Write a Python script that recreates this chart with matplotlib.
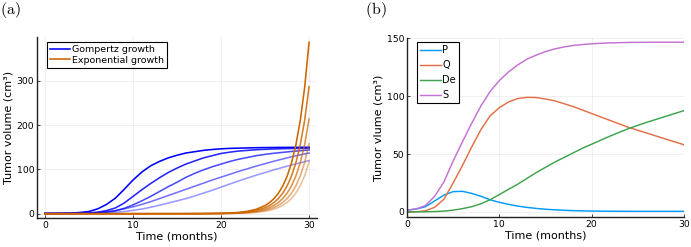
import matplotlib
matplotlib.use("Agg")
import matplotlib.pyplot as plt

plt.rcParams['font.family'] = ['DejaVu Sans']
plt.rcParams['mathtext.fontset'] = 'cm'

# ---- panel (a): five Gompertz and five exponential growth curves ----
months = list(range(31))
gompertz_1 = [0.5, 0.6, 0.9, 1.4, 2.8, 5, 11, 21, 35, 55, 76, 94, 108, 118, 126, 132,
              137, 140, 143, 145, 146.5, 147.5, 148, 148.5, 149, 149.3, 149.5, 149.7,
              149.8, 149.9, 150]
gompertz_2 = [0.5, 0.5, 0.6, 0.8, 1.2, 2, 3.5, 7, 13, 24, 39, 54, 68, 81, 93, 103,
              112, 119, 126, 131, 136, 139, 141.5, 143, 144.5, 145.5, 146.2, 146.8,
              147.2, 147.6, 148]
gompertz_3 = [0.5, 0.5, 0.5, 0.6, 0.8, 1.2, 2, 3.5, 6.5, 12, 20, 29, 39, 50, 61, 71,
              82, 91, 99, 106, 112, 118, 123, 127, 131, 134, 136.5, 138.5, 140.5,
              142.3, 144]
gompertz_4 = [0.5, 0.5, 0.5, 0.6, 0.9, 1.5, 2.6, 4.3, 7, 11, 15.5, 21, 27, 34, 41, 48,
              55, 62, 69, 76, 82.5, 89, 95.5, 101.5, 107.5, 113, 118.5, 123.5, 128.5,
              133, 137]
gompertz_5 = [0.5, 0.5, 0.5, 0.5, 0.6, 0.8, 1.2, 2, 3.2, 5, 7.5, 10.5, 14.5, 19, 24,
              29, 34, 40, 46.5, 53, 60, 67, 74, 80.5, 87, 93, 99, 104.5, 110, 115, 120]

exp_months = [0, 5, 10, 15, 18, 20, 21, 22, 23, 24, 25, 25.5, 26, 26.5, 27, 27.5, 28,
              28.5, 29, 29.5, 30]
exponential_1 = [0, 0, 0, 0.04, 0.26, 0.87, 1.6, 2.94, 5.41, 9.96, 18.3, 24.9, 33.7,
                 45.8, 62.1, 84.2, 114.3, 155, 210.3, 285.3, 387]
exponential_2 = [0, 0, 0, 0.03, 0.19, 0.64, 1.2, 2.2, 4.0, 7.4, 13.6, 18.4, 25.0, 33.9,
                 46.0, 62.4, 84.7, 114.8, 155.8, 211.3, 287]
exponential_3 = [0, 0, 0, 0.02, 0.14, 0.47, 0.9, 1.6, 3.0, 5.5, 10.1, 13.6, 18.5, 25.1,
                 34.1, 46.2, 62.7, 85.0, 115.4, 156.5, 214]
exponential_4 = [0, 0, 0, 0.02, 0.1, 0.35, 0.65, 1.2, 2.2, 4.1, 7.5, 10.1, 13.7, 18.6,
                 25.2, 34.2, 46.4, 63.0, 85.5, 115.9, 158]
exponential_5 = [0, 0, 0, 0.01, 0.08, 0.26, 0.48, 0.9, 1.6, 3.0, 5.5, 7.5, 10.1, 13.8,
                 18.7, 25.3, 34.4, 46.7, 63.3, 85.9, 117]

# ---- panel (b): compartments of the tumour volume ----
comp_P = [1.5, 2.5, 4.5, 9.5, 14.5, 17.5, 17.8, 16, 13.5, 10.5, 8.3, 6.5, 5, 3.9, 3,
          2.3, 1.8, 1.4, 1.1, 0.9, 0.75, 0.65, 0.6, 0.55, 0.5, 0.5, 0.5, 0.5, 0.5,
          0.5, 0.5]
comp_Q = [0, 0.1, 1.0, 4, 11, 25, 40, 56, 71, 83, 90, 95, 98, 99, 98.8, 97.5, 96,
          93.5, 91, 88, 85, 82, 79, 76, 73, 70.5, 68, 65.5, 63, 60.5, 58]
comp_De = [0, 0, 0.1, 0.3, 0.7, 1.5, 2.8, 4.5, 7, 10.5, 15, 19.5, 24, 29, 34, 38.5,
           43, 47, 51, 55, 58.5, 62, 65.5, 68.8, 72, 74.8, 77.5, 80, 82.5, 85, 87.5]
comp_S = [1.5, 2.6, 5.5, 13.5, 26, 44, 60.5, 76.5, 91.5, 104, 113.5, 121, 127, 132,
          135.5, 138.5, 140.8, 142.5, 143.8, 144.6, 145.2, 145.7, 146, 146.2, 146.4,
          146.5, 146.5, 146.6, 146.6, 146.6, 146.6]

W, H = 691, 247
fig = plt.figure(figsize=(W / 100, H / 100), dpi=100)


def style_axes(ax):
    for side in ['top', 'right']:
        ax.spines[side].set_visible(False)
    for side in ['left', 'bottom']:
        ax.spines[side].set_linewidth(1.0)
        ax.spines[side].set_color('#222222')
    ax.grid(True, color='#000000', alpha=0.08, linewidth=0.5)
    ax.tick_params(direction='in', length=2.5, width=0.6, labelsize=6.7, pad=2,
                   colors='#222222', labelcolor='black')


# (a)
ax1 = fig.add_axes([37 / W, 1 - 218 / H, 280 / W, 181 / H])
style_axes(ax1)
alphas = [1.0, 0.85, 0.7, 0.55, 0.4]
gomp = [gompertz_1, gompertz_2, gompertz_3, gompertz_4, gompertz_5]
expo = [exponential_1, exponential_2, exponential_3, exponential_4, exponential_5]
for i, g in enumerate(gomp):
    ax1.plot(months, g, color='#0000ff', alpha=alphas[i], lw=1.15,
             label='Gompertz growth' if i == 0 else None)
for i, e in enumerate(expo):
    ax1.plot(exp_months, e, color='#cd6600', alpha=alphas[i], lw=1.15,
             label='Exponential growth' if i == 0 else None)
ax1.set_xlim(-0.9, 30.9)
ax1.set_ylim(-9.7, 399)
ax1.set_xticks([0, 10, 20, 30])
ax1.set_yticks([0, 100, 200, 300])
ax1.set_xlabel('Time (months)', fontsize=8, labelpad=1)
ax1.set_ylabel('Tumor volume (cm³)', fontsize=8, labelpad=2)
ax1.legend(loc='upper left', bbox_to_anchor=(47 / W, 1 - 42 / H),
           bbox_transform=fig.transFigure, borderaxespad=0, fontsize=6.8,
           frameon=True, fancybox=False, edgecolor='black', framealpha=1,
           handlelength=2.1, handletextpad=0.2, labelspacing=0.15, borderpad=0.35)
ax1.get_legend().get_frame().set_linewidth(0.8)
fig.text(0, 1 - 10 / H, r'$\mathrm{(a)}$', fontsize=11.5, va='center', ha='left')

# (b)
ax2 = fig.add_axes([407 / W, 1 - 217 / H, 277 / W, 179.3 / H])
style_axes(ax2)
ax2.plot(months, comp_P, color='#009afa', lw=1.05, label='P')
ax2.plot(months, comp_Q, color='#e26f46', lw=1.05, label='Q')
ax2.plot(months, comp_De, color='#3da44d', lw=1.05, label='De')
ax2.plot(months, comp_S, color='#c371d2', lw=1.05, label='S')
ax2.set_xlim(0, 30)
ax2.set_ylim(-4.4, 150.5)
ax2.set_xticks([0, 10, 20, 30])
ax2.set_yticks([0, 50, 100, 150])
ax2.set_xlabel('Time (months)', fontsize=8, labelpad=1)
ax2.set_ylabel('Tumor vlume (cm³)', fontsize=8, labelpad=2)
ax2.legend(loc='upper left', bbox_to_anchor=(417 / W, 1 - 42 / H),
           bbox_transform=fig.transFigure, borderaxespad=0, fontsize=7,
           frameon=True, fancybox=False, edgecolor='black', framealpha=1,
           handlelength=2.1, handletextpad=0.15, labelspacing=0.5, borderpad=0.35)
ax2.get_legend().get_frame().set_linewidth(0.8)
fig.text(365 / W, 1 - 10 / H, r'$\mathrm{(b)}$', fontsize=11.5, va='center', ha='left')

fig.savefig('out.png', dpi=100)
